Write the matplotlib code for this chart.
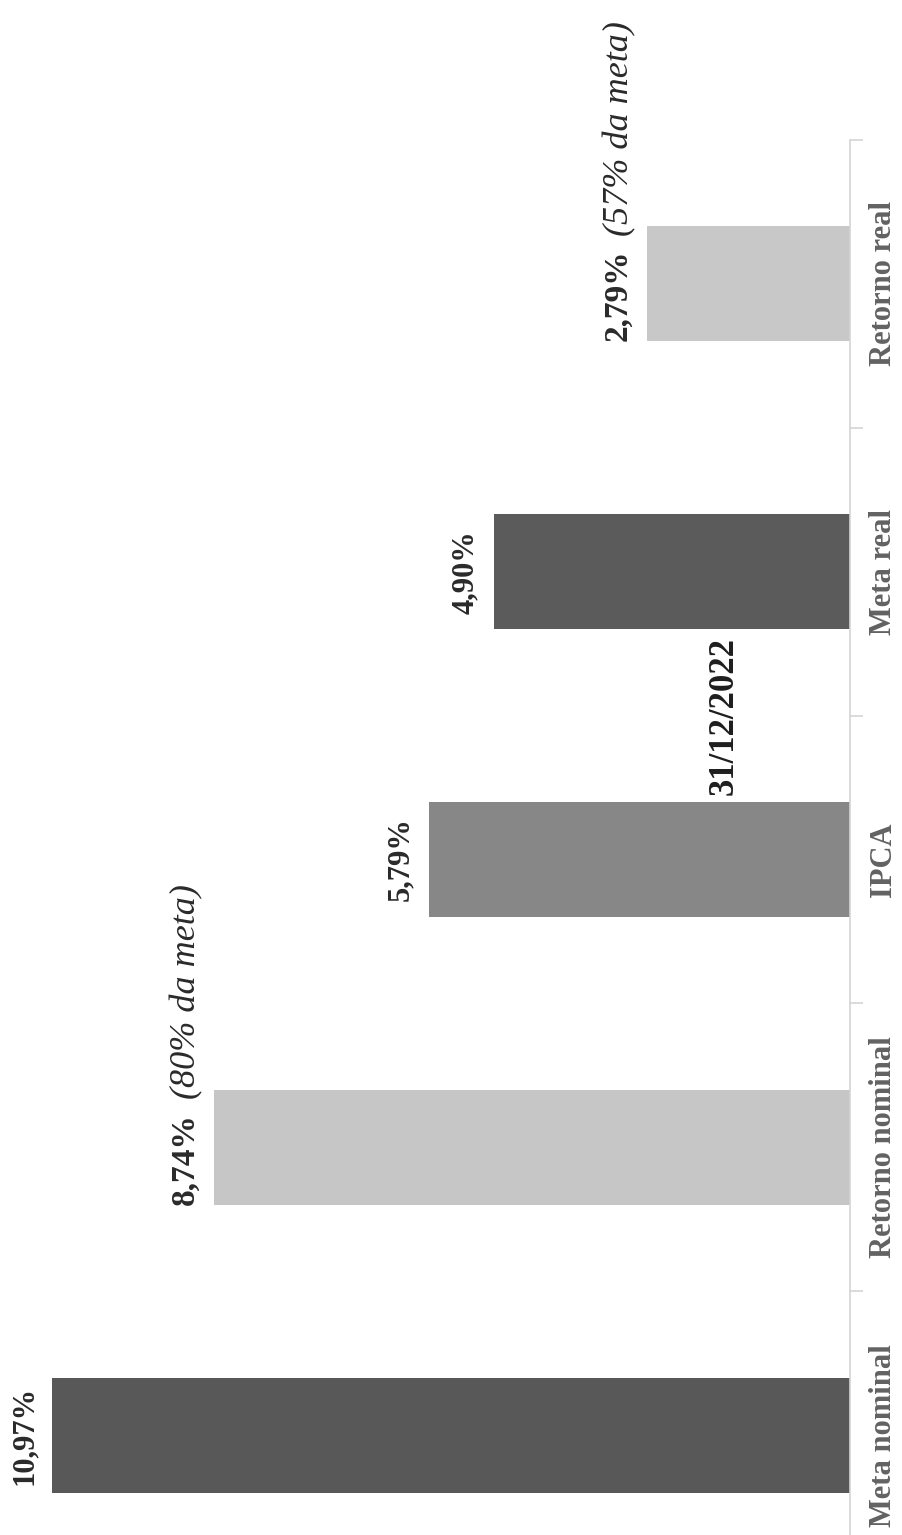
import matplotlib
matplotlib.use("Agg")
import matplotlib.pyplot as plt
import numpy as np

plt.rcParams['font.family'] = ['Liberation Serif', 'DejaVu Serif']

# Data (chart is drawn rotated 90 degrees, as in the scanned page)
categories = ["Meta nominal", "Retorno nominal", "IPCA", "Meta real", "Retorno real"]
values = [10.97, 8.74, 5.79, 4.90, 2.79]
value_labels = ["10,97%", "8,74%", "5,79%", "4,90%", "2,79%"]
notes = ["", "(80% da meta)", "", "", "(57% da meta)"]
bar_colors = ["#585858", "#c6c6c6", "#878787", "#5b5b5b", "#c8c8c8"]
title = "31/12/2022"

fig = plt.figure(figsize=(9.03, 15.35), dpi=100)
ax = fig.add_axes([0, -0.0287, 850 / 903, 0.9375])

y = np.arange(len(categories))
bar_h = 0.4
ax.barh(y, values, height=bar_h, color=bar_colors)

ax.set_xlim(11.69, 0)
ax.set_ylim(-0.5, 4.5)

# axis styling
for s in ["left", "top", "bottom"]:
    ax.spines[s].set_visible(False)
ax.spines["right"].set_color("#d4d4d4")
ax.spines["right"].set_linewidth(1.2)
ax.set_xticks([])
ax.yaxis.tick_right()
ax.set_yticks(y)
ax.set_yticklabels(categories, rotation=90, va="center", ha="left",
                   fontsize=22, fontweight="bold", color="#626262")
ax.set_yticks(np.arange(-0.5, len(categories), 1), minor=True)
ax.tick_params(axis="y", which="major", length=0, pad=14)
ax.tick_params(axis="y", which="minor", length=9, width=1.2, color="#d4d4d4",
               direction="out", right=True, left=False)

# value labels
for i, v in enumerate(values):
    if notes[i]:
        t = ax.annotate(value_labels[i], xy=(v, y[i] - bar_h / 2), xytext=(-10, 0),
                        textcoords="offset points", rotation=90, ha="right",
                        va="bottom", fontsize=24, fontweight="bold", color="#2a2a2a")
        ax.annotate(notes[i], xy=(0.55, 1), xycoords=t, xytext=(0, 10),
                    textcoords="offset points", rotation=90, ha="center",
                    va="bottom", fontsize=26, fontstyle="italic", color="#2a2a2a")
    else:
        ax.annotate(value_labels[i], xy=(v, y[i]), xytext=(-10, 0),
                    textcoords="offset points", rotation=90, ha="right",
                    va="center", fontsize=22, fontweight="bold", color="#2a2a2a")

fig.text(724 / 903, 1 - 716 / 1535, title, rotation=90, ha="center", va="center",
         fontsize=25, fontweight="bold", color="#1e1e1e")

fig.savefig("out.png", dpi=100)
